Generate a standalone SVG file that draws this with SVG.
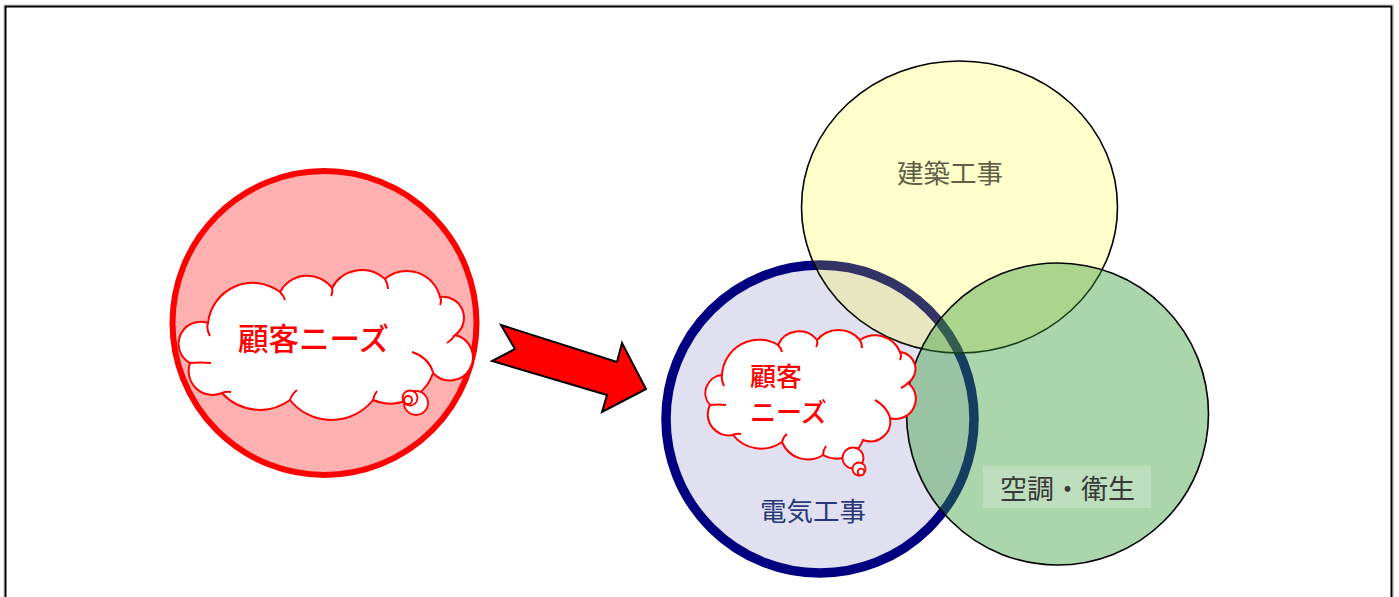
<svg xmlns="http://www.w3.org/2000/svg" width="1399" height="597" viewBox="0 0 1399 597">
<style>
.jp{font-family:"Noto Sans CJK JP","Noto Sans CJK SC",sans-serif;}
.cloud{fill:#ffffff;stroke:#ff0000;stroke-width:2;}
.inner{fill:none;stroke:#ff0000;stroke-width:2;}
.bub{fill:#ffffff;stroke:#ff0000;stroke-width:1.8;}
.red{fill:#ff0000;font-weight:500;}
</style>
<rect x="4" y="5" width="1389.5" height="600" fill="none" stroke="#c8c8c8" stroke-width="1"/>
<rect x="5.5" y="6.5" width="1386" height="600" fill="#ffffff" stroke="#000000" stroke-width="2"/>

<g id="needs-circle">
<circle cx="324.5" cy="323" r="152" fill="#ffb0b0" stroke="#ff0000" stroke-width="6"/>
</g>
<g id="needs-cloud">
<path class="cloud" d="M 208 323 A 45 45 0 0 1 280 292 A 31 31 0 0 1 332 288 A 34 34 0 0 1 385 279 A 34 34 0 0 1 440 297 A 21 21 0 0 1 455 335 A 23 23 0 1 1 433 373 A 45 45 0 0 1 373 400 A 53 53 0 0 1 290 400 A 51 51 0 0 1 222 393 A 24 24 0 0 1 190 363 A 22 22 0 0 1 208 323 Z"/>
<path class="inner" d="M 208 323 Q 206 329 210 336 M 280 292 Q 284 296 285 300 M 332 288 Q 333 293 331 296 M 385 279 Q 388 284 388 289 M 440 297 Q 442 301 440 305 M 455 335 Q 452 340 447 343 M 412 352 Q 428 357 433 372 M 373 400 Q 374 395 377 391 M 290 400 Q 292 394 297 390 M 222 393 Q 226 391 231 392 M 190 363 Q 200 362 211 363"/>
<circle class="bub" cx="416" cy="403" r="12"/>
<circle class="bub" cx="410" cy="398" r="7.5"/>
<circle class="bub" cx="408" cy="400" r="4"/>
<text class="jp red" x="238" y="350" font-size="30.5">顧客ニーズ</text>
</g>

<g id="connectors">
<polygon points="501,325 617,362 622,343 646,389 602,412 607,395 492,361 515,349" fill="#ff0000" stroke="#000000" stroke-width="2" stroke-linejoin="miter"/>
</g>

<g id="electric">
<circle cx="820" cy="419" r="154" fill="#e0e0f0" stroke="#000080" stroke-width="9.5"/>
<text class="jp" x="760" y="521" font-size="26.5" fill="#283878">電気工事</text>
</g>

<g id="building">
<ellipse cx="959.5" cy="207" rx="158" ry="146" fill="#ffff00" fill-opacity="0.2" stroke="#000000" stroke-width="1.6"/>
<text class="jp" x="897" y="183" font-size="26.5" fill="#606048">建築工事</text>
</g>

<g id="hvac">
<circle cx="1057.5" cy="414" r="151" fill="#339933" fill-opacity="0.41" stroke="#000000" stroke-width="1.6"/>
<rect x="983" y="466" width="168" height="42" fill="#ffffff" fill-opacity="0.22"/>
<text class="jp" x="1000" y="499" font-size="27" fill="#383838">空調・衛生</text>
</g>

<g id="needs-cloud-2">
<path class="cloud" d="M 722 375 A 37 37 0 0 1 778 345 A 23 23 0 0 1 817 340 A 28 28 0 0 1 860 340 A 27 27 0 0 1 900 352 A 17 17 0 0 1 908 383 A 20 20 0 0 1 890 418 A 20 20 0 0 1 863 440 A 28 28 0 0 1 823 455 A 28 28 0 0 1 782 442 A 36 36 0 0 1 733 435 A 21 21 0 0 1 710 405 A 18 18 0 0 1 722 375 Z"/>
<path class="inner" d="M 722 375 Q 721 380 724 386 M 778 345 Q 781 348 782 352 M 817 340 Q 818 344 816 347 M 860 340 Q 862 344 862 348 M 900 352 Q 902 356 900 360 M 908 383 Q 905 386 901 388 M 875 400 Q 886 406 890 417 M 823 455 Q 823 450 826 446 M 782 442 Q 783 437 787 434 M 733 435 Q 737 433 741 434 M 710 405 Q 718 404 726 405"/>
<circle class="bub" cx="853" cy="458" r="10.5"/>
<circle class="bub" cx="859" cy="469" r="6.5"/>
<circle class="bub" cx="861" cy="472" r="3.3"/>
<text class="jp red" x="750" y="386" font-size="26">顧客</text>
<text class="jp red" x="750" y="422" font-size="26">ニーズ</text>
</g>
</svg>
